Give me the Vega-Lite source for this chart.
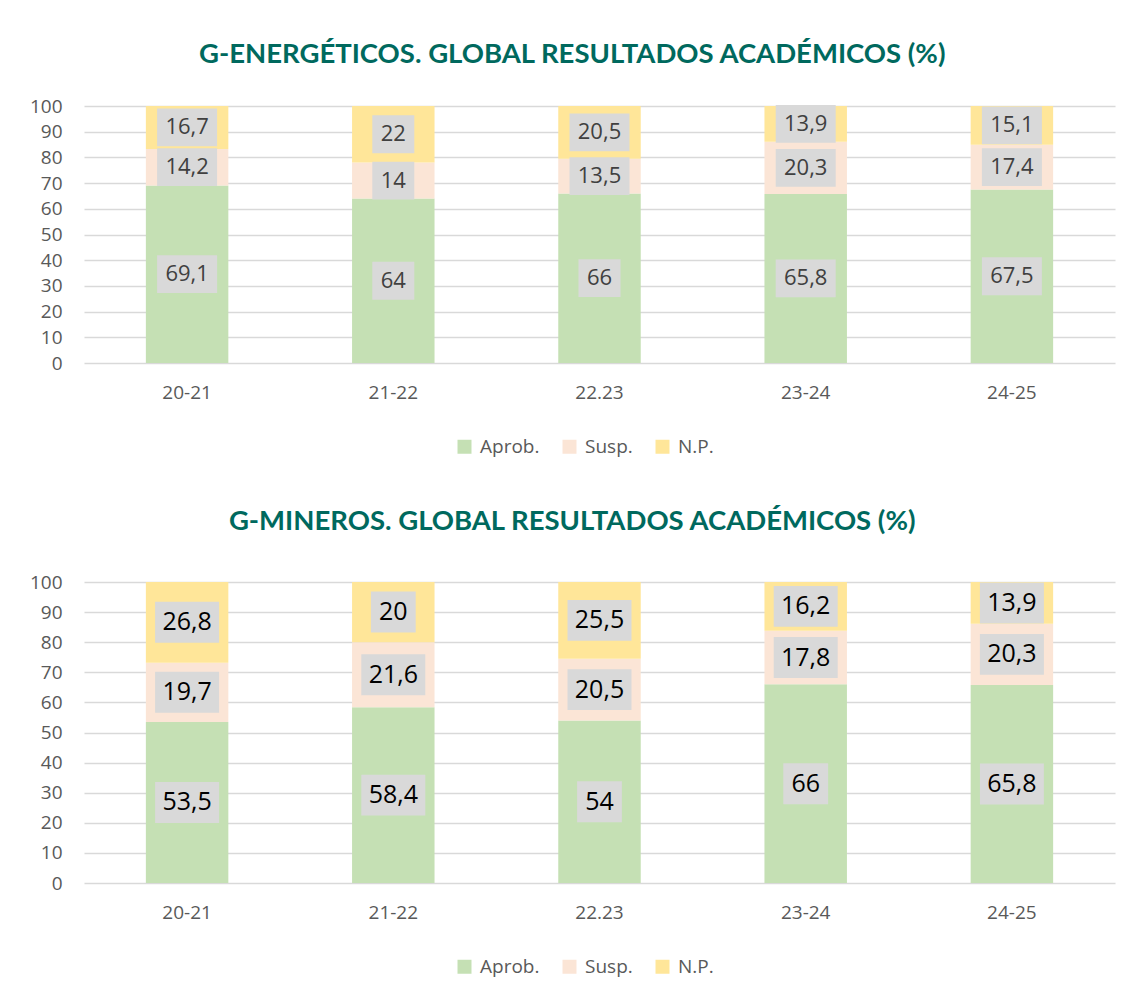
{
  "$schema": "https://vega.github.io/schema/vega-lite/v6.json",
  "padding": {"left": 29, "top": 40, "right": 10, "bottom": 30},
  "background": "white",
  "datasets": {
    "energ": [
      {"curso": "20-21", "cat": "Aprob.", "v": 69.1},
      {"curso": "20-21", "cat": "Susp.", "v": 14.2},
      {"curso": "20-21", "cat": "N.P.", "v": 16.7},
      {"curso": "21-22", "cat": "Aprob.", "v": 64},
      {"curso": "21-22", "cat": "Susp.", "v": 14},
      {"curso": "21-22", "cat": "N.P.", "v": 22},
      {"curso": "22.23", "cat": "Aprob.", "v": 66},
      {"curso": "22.23", "cat": "Susp.", "v": 13.5},
      {"curso": "22.23", "cat": "N.P.", "v": 20.5},
      {"curso": "23-24", "cat": "Aprob.", "v": 65.8},
      {"curso": "23-24", "cat": "Susp.", "v": 20.3},
      {"curso": "23-24", "cat": "N.P.", "v": 13.9},
      {"curso": "24-25", "cat": "Aprob.", "v": 67.5},
      {"curso": "24-25", "cat": "Susp.", "v": 17.4},
      {"curso": "24-25", "cat": "N.P.", "v": 15.1}
    ],
    "miner": [
      {"curso": "20-21", "cat": "Aprob.", "v": 53.5},
      {"curso": "20-21", "cat": "Susp.", "v": 19.7},
      {"curso": "20-21", "cat": "N.P.", "v": 26.8},
      {"curso": "21-22", "cat": "Aprob.", "v": 58.4},
      {"curso": "21-22", "cat": "Susp.", "v": 21.6},
      {"curso": "21-22", "cat": "N.P.", "v": 20},
      {"curso": "22.23", "cat": "Aprob.", "v": 54},
      {"curso": "22.23", "cat": "Susp.", "v": 20.5},
      {"curso": "22.23", "cat": "N.P.", "v": 25.5},
      {"curso": "23-24", "cat": "Aprob.", "v": 66},
      {"curso": "23-24", "cat": "Susp.", "v": 17.8},
      {"curso": "23-24", "cat": "N.P.", "v": 16.2},
      {"curso": "24-25", "cat": "Aprob.", "v": 65.8},
      {"curso": "24-25", "cat": "Susp.", "v": 20.3},
      {"curso": "24-25", "cat": "N.P.", "v": 13.9}
    ]
  },
  "config": {
    "locale": {"number": {"decimal": ",", "thousands": ".", "grouping": [3], "currency": ["", " €"]}},
    "view": {"stroke": null},
    "font": "Open Sans",
    "axis": {"gridColor": "#d9d9d9", "gridWidth": 1.5, "domain": false, "ticks": false, "labelColor": "#595959", "labelFontSize": 19, "labelFont": "Open Sans", "title": null, "labelOverlap": false},
    "axisY": {"values": [0, 10, 20, 30, 40, 50, 60, 70, 80, 90, 100], "labelPadding": 22}
  },
  "resolve": {"legend": {"color": "independent"}},
  "spacing": 50,
  "vconcat": [
    {
      "title": {"text": "G-ENERGÉTICOS. GLOBAL RESULTADOS ACADÉMICOS (%)", "font": "Lato", "fontWeight": "bold", "fontSize": 27.5, "color": "#00695E", "anchor": "middle", "frame": "bounds", "offset": 29},
      "width": 1031,
      "height": 257,
      "data": {"name": "energ"},
      "transform": [
        {"calculate": "indexof(['Aprob.','Susp.','N.P.'], datum.cat)", "as": "ord"},
        {"stack": "v", "groupby": ["curso"], "sort": [{"field": "ord", "order": "ascending"}], "as": ["y0", "y1"]},
        {"calculate": "(datum.y0 + datum.y1) / 2", "as": "ym"}
      ],
      "encoding": {
        "x": {"field": "curso", "type": "nominal", "sort": null, "scale": {"paddingInner": 0.6, "paddingOuter": 0.3}, "axis": {"labelAngle": 0, "labelPadding": 20, "grid": false}}
      },
      "layer": [
        {
          "mark": {"type": "bar"},
          "encoding": {
            "y": {"field": "y0", "type": "quantitative", "scale": {"domain": [0, 100], "nice": false}, "axis": {"values": [0, 10, 20, 30, 40, 50, 60, 70, 80, 90, 100]}},
            "y2": {"field": "y1"},
            "color": {"field": "cat", "type": "nominal", "sort": ["Aprob.", "Susp.", "N.P."], "scale": {"domain": ["Aprob.", "Susp.", "N.P."], "range": ["#C5E0B4", "#FBE5D6", "#FFE699"]}, "legend": {"title": null, "orient": "none", "legendX": 371, "legendY": 331, "direction": "horizontal", "symbolType": "square", "symbolSize": 196, "symbolStrokeWidth": 0, "labelFontSize": 19, "labelColor": "#595959", "columnPadding": 20, "labelOffset": 6}}
          }
        },
        {
          "mark": {"type": "point", "filled": true, "fill": "#d9d9d9", "opacity": 1, "strokeWidth": 0, "size": 3600},
          "encoding": {
            "y": {"field": "ym", "type": "quantitative", "axis": {"values": [0, 10, 20, 30, 40, 50, 60, 70, 80, 90, 100]}},
            "shape": {"condition": {"test": "datum.v % 1 === 0", "value": "M-0.7,-0.63L0.7,-0.63L0.7,0.63L-0.7,0.63Z"}, "value": "M-1,-0.63L1,-0.63L1,0.63L-1,0.63Z"}
          }
        },
        {
          "mark": {"type": "text", "fontSize": 22, "color": "#404040", "font": "Open Sans"},
          "encoding": {
            "y": {"field": "ym", "type": "quantitative", "axis": {"values": [0, 10, 20, 30, 40, 50, 60, 70, 80, 90, 100]}},
            "text": {"field": "v", "type": "quantitative", "format": ".1~f"}
          }
        }
      ]
    },
    {
      "title": {"text": "G-MINEROS. GLOBAL RESULTADOS ACADÉMICOS (%)", "font": "Lato", "fontWeight": "bold", "fontSize": 27.5, "color": "#00695E", "anchor": "middle", "frame": "bounds", "offset": 38},
      "width": 1031,
      "height": 301,
      "data": {"name": "miner"},
      "transform": [
        {"calculate": "indexof(['Aprob.','Susp.','N.P.'], datum.cat)", "as": "ord"},
        {"stack": "v", "groupby": ["curso"], "sort": [{"field": "ord", "order": "ascending"}], "as": ["y0", "y1"]},
        {"calculate": "(datum.y0 + datum.y1) / 2", "as": "ym"}
      ],
      "encoding": {
        "x": {"field": "curso", "type": "nominal", "sort": null, "scale": {"paddingInner": 0.6, "paddingOuter": 0.3}, "axis": {"labelAngle": 0, "labelPadding": 20, "grid": false}}
      },
      "layer": [
        {
          "mark": {"type": "bar"},
          "encoding": {
            "y": {"field": "y0", "type": "quantitative", "scale": {"domain": [0, 100], "nice": false}, "axis": {"values": [0, 10, 20, 30, 40, 50, 60, 70, 80, 90, 100]}},
            "y2": {"field": "y1"},
            "color": {"field": "cat", "type": "nominal", "sort": ["Aprob.", "Susp.", "N.P."], "scale": {"domain": ["Aprob.", "Susp.", "N.P."], "range": ["#C5E0B4", "#FBE5D6", "#FFE699"]}, "legend": {"title": null, "orient": "none", "legendX": 371, "legendY": 375, "direction": "horizontal", "symbolType": "square", "symbolSize": 196, "symbolStrokeWidth": 0, "labelFontSize": 19, "labelColor": "#595959", "columnPadding": 20, "labelOffset": 6}}
          }
        },
        {
          "mark": {"type": "point", "filled": true, "fill": "#d9d9d9", "opacity": 1, "strokeWidth": 0, "size": 4096},
          "encoding": {
            "y": {"field": "ym", "type": "quantitative", "axis": {"values": [0, 10, 20, 30, 40, 50, 60, 70, 80, 90, 100]}},
            "shape": {"condition": {"test": "datum.v % 1 === 0", "value": "M-0.7,-0.64L0.7,-0.64L0.7,0.64L-0.7,0.64Z"}, "value": "M-1,-0.64L1,-0.64L1,0.64L-1,0.64Z"}
          }
        },
        {
          "mark": {"type": "text", "fontSize": 25, "color": "#000000", "font": "Open Sans"},
          "encoding": {
            "y": {"field": "ym", "type": "quantitative", "axis": {"values": [0, 10, 20, 30, 40, 50, 60, 70, 80, 90, 100]}},
            "text": {"field": "v", "type": "quantitative", "format": ".1~f"}
          }
        }
      ]
    }
  ]
}
